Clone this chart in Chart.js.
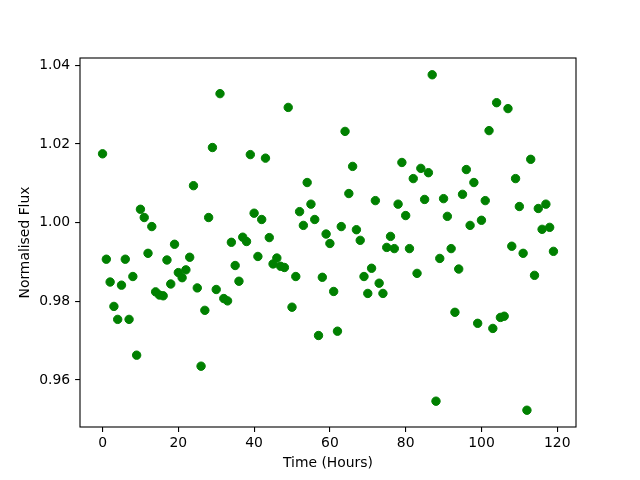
<!DOCTYPE html>
<html>
<head>
<meta charset="utf-8">
<script src="https://cdn.jsdelivr.net/npm/chart.js@4/dist/chart.umd.min.js"></script>
<style>
  html, body { margin: 0; padding: 0; background: #fff; }
  canvas { display: block; }
</style>
</head>
<body>
<canvas id="c" width="640" height="480"></canvas>
<script>
const hours = [0,1,2,3,4,5,6,7,8,9,10,11,12,13,14,15,16,17,18,19,
  20,21,22,23,24,25,26,27,28,29,30,31,32,33,34,35,36,37,38,39,
  40,41,42,43,44,45,46,47,48,49,50,51,52,53,54,55,56,57,58,59,
  60,61,62,63,64,65,66,67,68,69,70,71,72,73,74,75,76,77,78,79,
  80,81,82,83,84,85,86,87,88,89,90,91,92,93,94,95,96,97,98,99,
  100,101,102,103,104,105,106,107,108,109,110,111,112,113,114,115,116,117,118,119];

const flux = [
  1.0175,0.9907,0.9849,0.9787,0.9754,0.9841,0.9907,0.9754,0.9863,0.9663,
  1.0034,1.0013,0.9922,0.9990,0.9824,0.9816,0.9814,0.9905,0.9844,0.9945,
  0.9873,0.9860,0.9880,0.9912,1.0094,0.9834,0.9635,0.9777,1.0013,1.0191,
  0.9830,1.0328,0.9807,0.9801,0.9950,0.9891,0.9851,0.9963,0.9952,1.0173,
  1.0024,0.9914,1.0008,1.0164,0.9962,0.9895,0.9910,0.9889,0.9886,1.0293,
  0.9785,0.9863,1.0028,0.9993,1.0102,1.0047,1.0008,0.9713,0.9861,0.9971,
  0.9947,0.9825,0.9724,0.9990,1.0232,1.0074,1.0143,0.9982,0.9955,0.9863,
  0.9820,0.9884,1.0056,0.9846,0.9820,0.9937,0.9965,0.9934,1.0047,1.0153,
  1.0018,0.9934,1.0112,0.9871,1.0138,1.0059,1.0127,1.0376,0.9546,0.9909,
  1.0061,1.0016,0.9934,0.9772,0.9882,1.0072,1.0135,0.9993,1.0102,0.9744,
  1.0006,1.0056,1.0234,0.9731,1.0305,0.9759,0.9762,1.0290,0.9940,1.0112,
  1.0041,0.9922,0.9523,1.0161,0.9866,1.0036,0.9983,1.0047,0.9988,0.9927
];

const xTicks = [0, 20, 40, 60, 80, 100, 120];
const yTicks = [0.96, 0.98, 1.00, 1.02, 1.04];
const xLimits = [-5.95, 124.95];
const yLimits = [0.948035, 1.041865];

const points = hours.map((h, i) => ({ x: h, y: flux[i] }));

Chart.defaults.color = '#000';
Chart.defaults.font.family = '"DejaVu Sans", sans-serif';
Chart.defaults.font.size = 13.9;

const frame = {
  id: 'frame',
  afterDraw(chart) {
    const a = chart.chartArea;
    const ctx = chart.ctx;
    ctx.save();
    ctx.strokeStyle = '#000';
    ctx.lineWidth = 1.1;
    ctx.strokeRect(a.left, a.top, a.right - a.left, a.bottom - a.top);
    ctx.restore();
  }
};

new Chart(document.getElementById('c'), {
  type: 'scatter',
  data: {
    datasets: [{
      data: points,
      backgroundColor: '#008000',
      borderColor: '#008000',
      borderWidth: 1,
      pointRadius: 4.2,
      pointHoverRadius: 4.2
    }]
  },
  options: {
    responsive: false,
    animation: false,
    events: [],
    layout: { padding: { left: 0, top: 58, right: 64, bottom: 0 } },
    plugins: { legend: { display: false }, tooltip: { enabled: false } },
    scales: {
      x: {
        type: 'linear',
        min: xLimits[0],
        max: xLimits[1],
        afterBuildTicks: (s) => { s.ticks = xTicks.map(v => ({ value: v })); },
        afterFit: (s) => { s.height = 53; },
        grid: { drawOnChartArea: false, drawTicks: true, tickLength: 4.9, color: '#000', lineWidth: 1.1 },
        border: { display: false },
        ticks: { padding: 3, maxRotation: 0, autoSkip: false, callback: (v) => String(v) },
        title: { display: true, text: 'Time (Hours)', padding: { top: 0, bottom: 8.7 } }
      },
      y: {
        type: 'linear',
        min: yLimits[0],
        max: yLimits[1],
        afterBuildTicks: (s) => { s.ticks = yTicks.map(v => ({ value: v })); },
        afterFit: (s) => { s.width = 80; },
        grid: { drawOnChartArea: false, drawTicks: true, tickLength: 4.9, color: '#000', lineWidth: 1.1 },
        border: { display: false },
        ticks: { padding: 4.9, autoSkip: false, callback: (v) => Number(v).toFixed(2) },
        title: { display: true, text: 'Normalised Flux', padding: { top: 17.5, bottom: 0 } }
      }
    }
  },
  plugins: [frame]
});
</script>
</body>
</html>
